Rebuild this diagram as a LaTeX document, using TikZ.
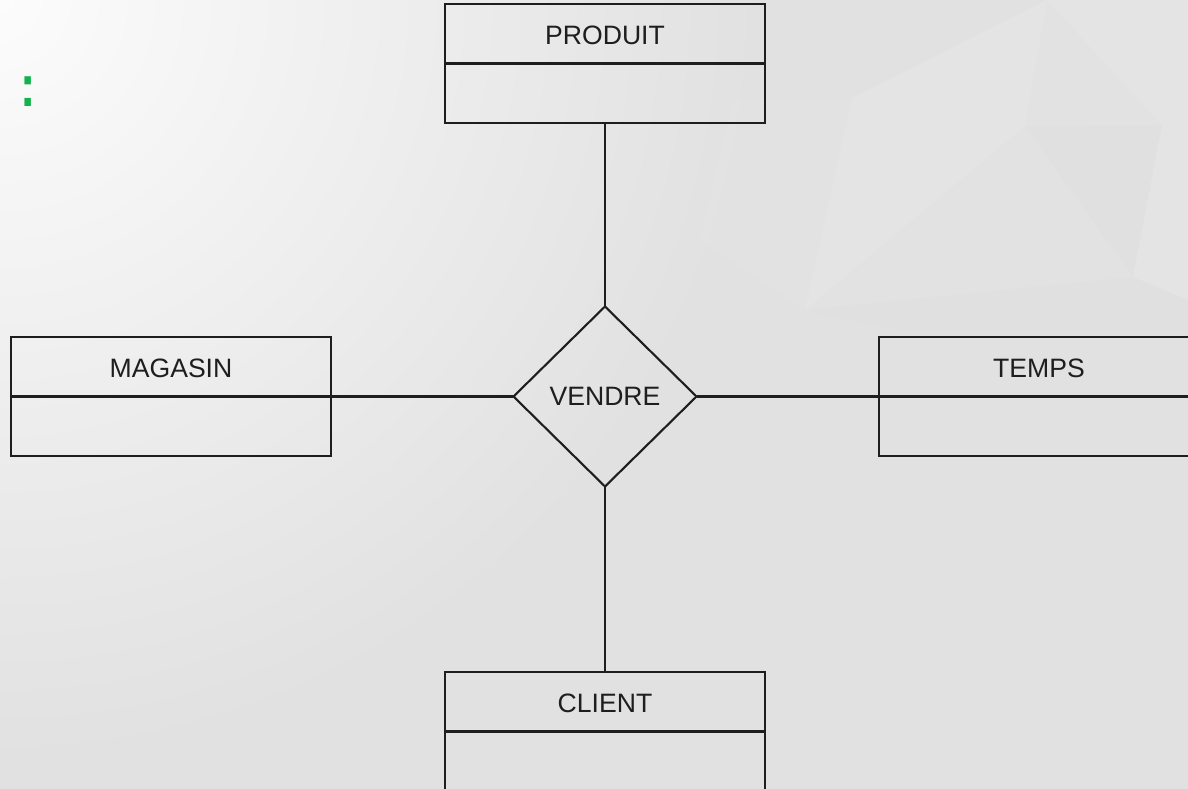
\documentclass[tikz,border=0pt]{standalone}
\usepackage{fontspec}
\setmainfont{Liberation Sans}
\usetikzlibrary{shapes.geometric}
\definecolor{bgbase}{HTML}{E1E1E1}
\definecolor{bglight}{HTML}{FCFCFC}
\definecolor{facetA}{HTML}{E4E4E4}
\definecolor{facetB}{HTML}{E0E0E0}
\definecolor{facetC}{HTML}{E8E8E8}
\definecolor{accent}{HTML}{13B24C}
\definecolor{ink}{HTML}{1E1E1E}
\tikzset{
  every picture/.style={x=1pt,y=-1pt},
  edge line/.style={line width=2.1pt, draw=ink},
  entity head/.style={draw=ink, line width=2.1pt, rectangle, inner sep=0pt, outer sep=0pt,
    minimum width=320pt, minimum height=59.5pt, anchor=north west,
    text height=22pt, text depth=0pt,
    font=\fontsize{26.6}{30}\selectfont, text=ink},
  entity body/.style={draw=ink, line width=2.1pt, rectangle, inner sep=0pt, outer sep=0pt,
    minimum width=320pt, minimum height=59.5pt, anchor=north west},
  relation/.style={draw=ink, line width=2.1pt, diamond, inner sep=0pt, outer sep=0pt,
    minimum width=183pt, minimum height=180pt,
    font=\fontsize{26.6}{30}\selectfont, text=ink},
}
\begin{document}
\begin{tikzpicture}
  % page and background
  \useasboundingbox (0,0) rectangle (1188,789);
  \fill[bgbase] (0,0) rectangle (1188,789);
  \begin{scope}
    \clip (0,0) rectangle (1188,789);
    \shade[inner color=bglight, outer color=bgbase] (0,0) circle (760);
    % faint low-poly facets, upper right
    \begin{scope}[fill opacity=0.55]
      \fill[facetA] (733,100) -- (852,98) -- (805,310) -- cycle;
      \fill[facetC] (852,98) -- (1025,126) -- (805,310) -- cycle;
      \fill[facetA] (1025,126) -- (1133,277) -- (805,310) -- cycle;
      \fill[facetB] (1025,126) -- (1162,125) -- (1133,277) -- cycle;
      \fill[facetC] (1162,125) -- (1188,107) -- (1188,300) -- (1133,277) -- cycle;
      \fill[facetC] (852,98) -- (1047,0) -- (1025,126) -- cycle;
      \fill[facetA] (1047,0) -- (1162,125) -- (1025,126) -- cycle;
      \fill[facetC] (1047,0) -- (1188,0) -- (1188,107) -- (1162,125) -- cycle;
      \fill[facetA] (700,240) -- (733,100) -- (805,310) -- cycle;
      \fill[facetB] (805,310) -- (1133,277) -- (1188,300) -- (1188,330) -- (900,330) -- cycle;
    \end{scope}
  \end{scope}

  % heading punctuation
  \node[text=accent, font=\fontsize{50}{56}\selectfont\bfseries, inner sep=0pt]
    (colon) at (28,92) {\scalebox{0.92}[1.18]{:}};

  % entities
  \node[entity head] (produit) at (445,4) {PRODUIT};
  \node[entity body] (produitB) at (produit.south west) {};
  \node[entity head] (magasin) at (11,337) {MAGASIN};
  \node[entity body] (magasinB) at (magasin.south west) {};
  \node[entity head] (temps) at (879,337) {TEMPS};
  \node[entity body] (tempsB) at (temps.south west) {};
  \node[entity head] (client) at (445,672) {CLIENT};
  \node[entity body] (clientB) at (client.south west) {};

  % relation
  \node[relation] (vendre) at (605,396.5) {VENDRE};

  % connectors
  \draw[edge line] (produitB.south) -- (vendre.north);
  \draw[edge line] (magasin.south east) -- (vendre.west);
  \draw[edge line] (vendre.east) -- (temps.south west);
  \draw[edge line] (vendre.south) -- (client.north);
\end{tikzpicture}
\end{document}
